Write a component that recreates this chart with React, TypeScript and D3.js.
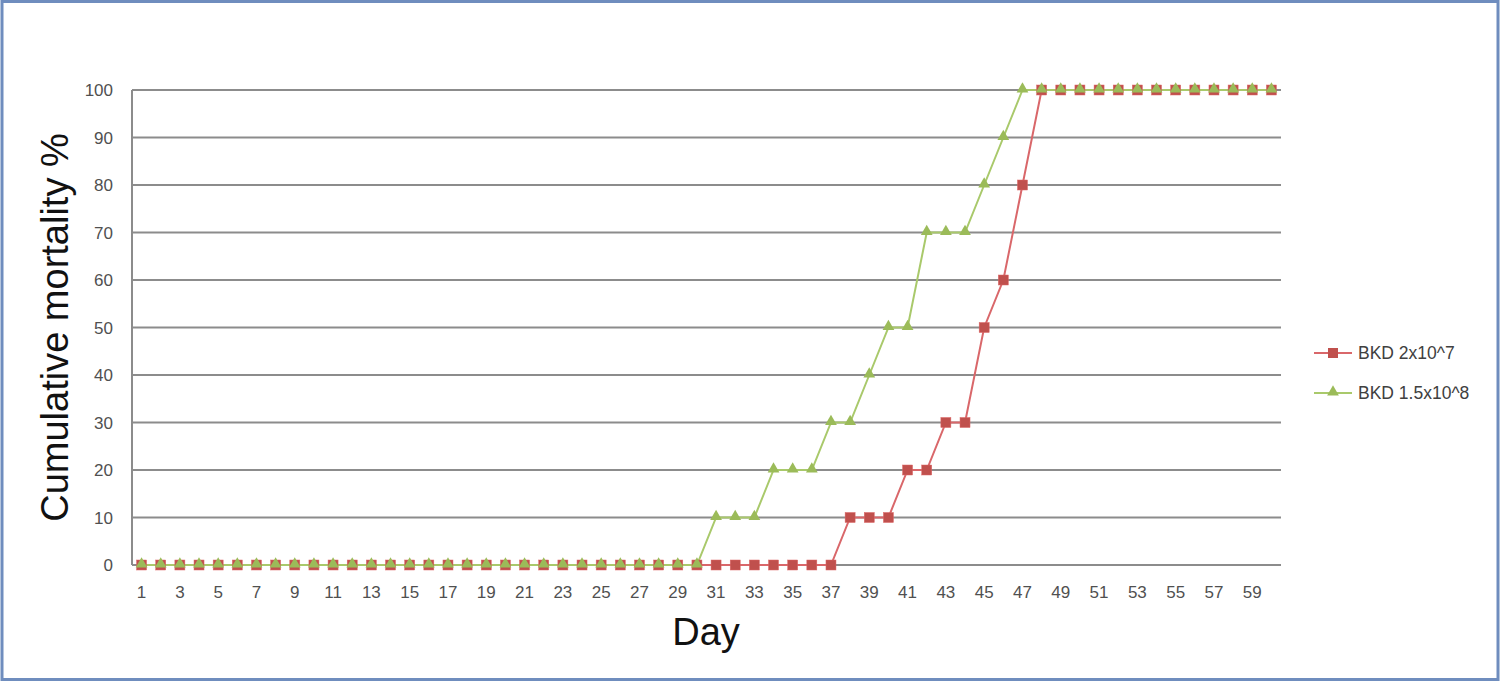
import React from "react";
import * as d3 from "d3";

const days: number[] = Array.from({ length: 60 }, (_, i) => i + 1);
const series1Name = "BKD 2x10^7";
const series2Name = "BKD 1.5x10^8";
const series1: number[] = [
  0, 0, 0, 0, 0, 0, 0, 0, 0, 0,
  0, 0, 0, 0, 0, 0, 0, 0, 0, 0,
  0, 0, 0, 0, 0, 0, 0, 0, 0, 0,
  0, 0, 0, 0, 0, 0, 0, 10, 10, 10,
  20, 20, 30, 30, 50, 60, 80, 100, 100, 100,
  100, 100, 100, 100, 100, 100, 100, 100, 100, 100,
];
const series2: number[] = [
  0, 0, 0, 0, 0, 0, 0, 0, 0, 0,
  0, 0, 0, 0, 0, 0, 0, 0, 0, 0,
  0, 0, 0, 0, 0, 0, 0, 0, 0, 0,
  10, 10, 10, 20, 20, 20, 30, 30, 40, 50,
  50, 70, 70, 70, 80, 90, 100, 100, 100, 100,
  100, 100, 100, 100, 100, 100, 100, 100, 100, 100,
];
const yTicks: number[] = [0, 10, 20, 30, 40, 50, 60, 70, 80, 90, 100];

const W = 1501;
const H = 682;
const left = 132;
const right = 1281;
const top = 90;
const bottom = 565;

export default function App() {
  const x = d3.scaleBand<number>().domain(days).range([left, right]);
  const y = d3.scaleLinear().domain([0, 100]).range([bottom, top]);
  const cx = (d: number) => (x(d) as number) + x.bandwidth() / 2;
  const line = d3
    .line<number>()
    .x((_, i) => cx(days[i]))
    .y((v) => y(v));
  const red = "#C0504D";
  const redLine = "#D9676A";
  const green = "#9BBB59";
  const greenLine = "#A9C96B";
  const tri = d3.symbol().type(d3.symbolTriangle).size(60)() as string;
  const font = "'Liberation Sans', Arial, sans-serif";
  return (
    <svg
      width={W}
      height={H}
      style={{ position: "absolute", left: 0, top: 0 }}
      fontFamily={font}
    >
      <rect x={0} y={0} width={W} height={H} fill="white" />
      <rect x={2} y={1.5} width={W - 5} height={H - 4} fill="none" stroke="#6F8DBE" strokeWidth={3} />
      {yTicks.map((t) => (
        <g key={t}>
          <line x1={left} x2={right} y1={y(t)} y2={y(t)} stroke="#8C8C8C" strokeWidth={2} />
          <text x={113} y={y(t) + 6} textAnchor="end" fontSize={17} fill="#505050">
            {t}
          </text>
        </g>
      ))}
      <line x1={left} x2={left} y1={top} y2={bottom} stroke="#8C8C8C" strokeWidth={2} />
      {days
        .filter((d) => d % 2 === 1)
        .map((d) => (
          <text key={d} x={cx(d)} y={598} textAnchor="middle" fontSize={17} fill="#505050">
            {d}
          </text>
        ))}
      <path d={line(series1) as string} fill="none" stroke={redLine} strokeWidth={2} />
      <path d={line(series2) as string} fill="none" stroke={greenLine} strokeWidth={2} />
      {series1.map((v, i) => (
        <rect key={"r" + i} x={cx(days[i]) - 5} y={y(v) - 5} width={10} height={10} fill={red} stroke="#D66" strokeWidth={0.5} />
      ))}
      {series2.map((v, i) => (
        <path key={"g" + i} d={tri} transform={`translate(${cx(days[i])},${y(v) - 1})`} fill={green} />
      ))}
      <text
        transform={`translate(68,${(top + bottom) / 2}) rotate(-90)`}
        textAnchor="middle"
        fontSize={38}
        fill="#111"
      >
        Cumulative mortality %
      </text>
      <text x={706} y={645} textAnchor="middle" fontSize={38} fill="#111">
        Day
      </text>
      <g>
        <line x1={1314} x2={1352} y1={353} y2={353} stroke={redLine} strokeWidth={2} />
        <rect x={1328} y={348} width={10} height={10} fill={red} />
        <text x={1358} y={359} fontSize={17.5} fill="#404040">{series1Name}</text>
        <line x1={1314} x2={1352} y1={393} y2={393} stroke={greenLine} strokeWidth={2} />
        <path d={tri} transform="translate(1333,392)" fill={green} />
        <text x={1358} y={399} fontSize={17.5} fill="#404040">{series2Name}</text>
      </g>
    </svg>
  );
}
